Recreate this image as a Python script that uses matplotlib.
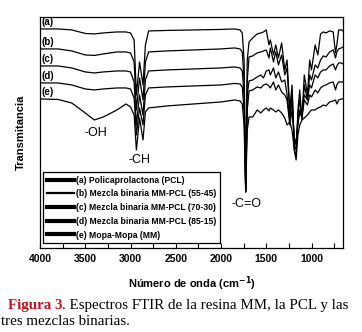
import matplotlib
matplotlib.use("Agg")
import matplotlib.pyplot as plt
from matplotlib.lines import Line2D
from matplotlib.ticker import MultipleLocator

plt.rcParams["font.family"] = ["Liberation Sans", "DejaVu Sans"]

# wavenumber grid (cm-1) shared by the five spectra
wavenumber = [4000, 3800, 3650, 3500, 3400, 3300, 3150, 3050,
              3000, 2960, 2935, 2900, 2862, 2835, 2800,
              2600, 2300, 2000, 1850, 1790, 1765,
              1745, 1727, 1710, 1690,
              1650, 1600, 1560, 1530, 1500, 1470, 1455, 1420, 1395, 1365,
              1330, 1295, 1270, 1240, 1215, 1190, 1170, 1150, 1130, 1105,
              1080, 1045, 1020, 1000, 960, 930, 900, 870, 840, 800,
              760, 735, 720, 700, 670, 650]

# transmittance (a.u., spectra already stacked with offsets)
t_pcl = [219, 219, 218, 214.5, 214, 215, 216, 216,
         215, 208, 153, 186, 163, 203, 217,
         217.5, 218, 218.5, 219, 218, 215,
         188, 56, 188, 206,
         210, 214, 215, 216, 218, 203, 208, 193, 203, 190,
         205, 178, 188, 138, 163, 98, 91, 138, 158, 128,
         173, 153, 188, 178, 203, 193, 214, 216, 215, 217,
         216, 195, 203, 218, 218, 217]
t_55_45 = [199, 199, 197, 193, 192.5, 194, 196, 196,
           195, 186, 138, 170, 148, 186, 196,
           197, 198, 199, 200, 199, 196,
           168, 58, 168, 191,
           192, 195, 196, 197, 198, 190, 200, 186, 196, 183,
           193, 173, 180, 133, 158, 103, 98, 133, 148, 130,
           163, 148, 173, 168, 183, 180, 188, 192, 191, 196,
           198, 190, 196, 199, 200, 201]
t_70_30 = [182, 182, 180, 176, 175, 176, 177, 177,
           176, 166, 123, 153, 133, 168, 177,
           178, 179, 180, 181, 180, 177,
           153, 56, 153, 167,
           168, 171, 173, 170, 177, 178, 173, 180, 170, 176,
           166, 168, 153, 128, 148, 108, 103, 128, 138, 133,
           153, 148, 163, 160, 173, 170, 176, 178, 178, 182,
           184, 178, 182, 185, 185, 184]
t_85_15 = [165, 165, 163, 159, 158, 159, 160, 160,
           159, 150, 113, 140, 123, 153, 160,
           161, 162, 163, 164.5, 164, 161,
           138, 58, 138, 157,
           158, 161, 160, 163, 164, 162, 160, 166, 158, 163,
           156, 153, 148, 123, 138, 110, 106, 123, 136, 130,
           148, 143, 153, 151, 158, 155, 160, 162, 163, 165,
           166, 158, 163, 166, 166, 166]
t_mm = [149, 148.5, 145, 135, 128, 131, 138, 144,
        141, 133, 98, 130, 108, 136, 140,
        142, 144, 146, 148, 147, 144,
        123, 56, 118, 131,
        131, 138, 135, 138, 140, 137, 140, 138, 136, 138,
        135, 130, 123, 126, 118, 98, 88, 113, 123, 128,
        130, 133, 136, 138, 138, 140, 141, 143, 142, 146,
        147, 148, 144, 148, 149, 149]

spectra = [t_pcl, t_55_45, t_70_30, t_85_15, t_mm]
tags = ["(a)", "(b)", "(c)", "(d)", "(e)"]
legend_labels = [
    "(a) Policaprolactona (PCL)",
    "(b) Mezcla binaria MM-PCL (55-45)",
    "(c) Mezcla binaria MM-PCL (70-30)",
    "(d) Mezcla binaria MM-PCL (85-15)",
    "(e) Mopa-Mopa (MM)",
]
legend_widths = [3.0, 1.6, 3.0, 3.0, 3.0]

bands = [("-OH", 3383, 115), ("-CH", 2897, 88), ("-C=O", 1717, 44)]

fig = plt.figure(figsize=(3.62, 3.32), dpi=100)
ax = fig.add_axes([0.1105, 0.253, 0.8375, 0.696])

for y, tag in zip(spectra, tags):
    ax.plot(wavenumber, y, color="black", lw=0.9)
    ax.text(3985, y[0] + 7, tag, fontsize=7, fontweight="bold",
            ha="left", va="center")

for txt, x, y in bands:
    ax.text(x, y, txt, fontsize=9, ha="center", va="center")

ax.set_xlim(4000, 650)
ax.set_ylim(0, 231)
ax.set_yticks([])
ax.xaxis.set_major_locator(MultipleLocator(500))
ax.xaxis.set_minor_locator(MultipleLocator(250))
ax.tick_params(axis="x", which="both", direction="in", length=3.5, width=0.8,
               labelsize=7.5, pad=4)
for lab in ax.get_xticklabels():
    lab.set_fontweight("bold")
for sp in ax.spines.values():
    sp.set_linewidth(0.9)

ax.set_xlabel("Número de onda (cm$^{\\mathbf{-1}}$)", fontsize=8,
              fontweight="bold", labelpad=8)
ax.set_ylabel("Transmitancia", fontsize=8, fontweight="bold", labelpad=10)

handles = [Line2D([], [], color="black", lw=w) for w in legend_widths]
leg = ax.legend(handles, legend_labels, loc="lower left",
                bbox_to_anchor=(0.01, 0.02), borderaxespad=0,
                fancybox=False, edgecolor="black", framealpha=1,
                handlelength=3.1, handletextpad=0.25, labelspacing=0.55,
                borderpad=0.45, prop={"size": 6.2, "weight": "bold"})
leg.get_frame().set_linewidth(0.9)

cap1 = fig.text(0.022, 1 - 306 / 332, "Figura 3", fontsize=10.8,
                family="Liberation Serif", fontweight="bold", color="#c0141e",
                va="center", ha="left")
ax.annotate(". Espectros FTIR de la resina MM, la PCL y las", xy=(1, 0.5),
            xycoords=cap1, va="center", ha="left", fontsize=10.8,
            family="Liberation Serif", annotation_clip=False)
fig.text(0.004, 1 - 321.5 / 332, "tres mezclas binarias.", fontsize=10.8,
         family="Liberation Serif", va="center", ha="left")

fig.savefig("out.png", dpi=100)
